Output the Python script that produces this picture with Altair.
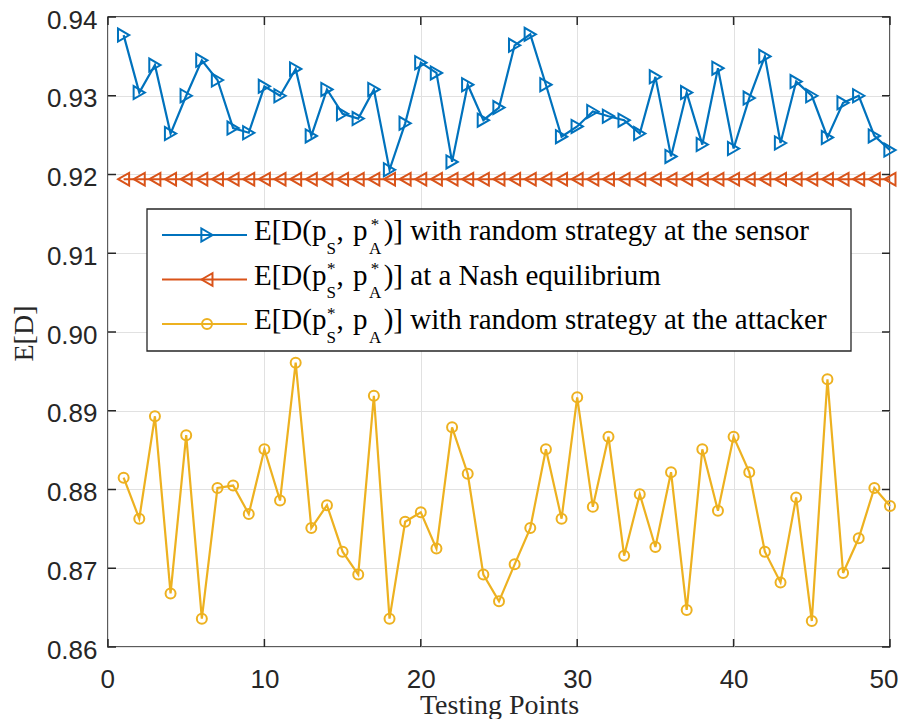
import altair as alt
import pandas as pd

# ---------------- data ----------------
points = list(range(1, 51))

sensor_random = [
    0.9377, 0.9304, 0.9339, 0.9252, 0.9300, 0.9345, 0.9320, 0.9259, 0.9253, 0.9312,
    0.9300, 0.9334, 0.9249, 0.9308, 0.9277, 0.9271, 0.9308, 0.9206, 0.9265, 0.9342,
    0.9329, 0.9216, 0.9314, 0.9269, 0.9285, 0.9364, 0.9378, 0.9314, 0.9248, 0.9261,
    0.9280, 0.9274, 0.9269, 0.9252, 0.9324, 0.9223, 0.9304, 0.9238, 0.9335, 0.9233,
    0.9297, 0.9350, 0.9240, 0.9318, 0.9300, 0.9247, 0.9291, 0.9300, 0.9249, 0.9231,
]

nash_eq = [
    0.9194, 0.9194, 0.9194, 0.9194, 0.9194, 0.9194, 0.9194, 0.9194, 0.9194, 0.9194,
    0.9194, 0.9194, 0.9194, 0.9194, 0.9194, 0.9194, 0.9194, 0.9194, 0.9194, 0.9194,
    0.9194, 0.9194, 0.9194, 0.9194, 0.9194, 0.9194, 0.9194, 0.9194, 0.9194, 0.9194,
    0.9194, 0.9194, 0.9194, 0.9194, 0.9194, 0.9194, 0.9194, 0.9194, 0.9194, 0.9194,
    0.9194, 0.9194, 0.9194, 0.9194, 0.9194, 0.9194, 0.9194, 0.9194, 0.9194, 0.9194,
]

attacker_random = [
    0.8815, 0.8763, 0.8893, 0.8668, 0.8869, 0.8636, 0.8802, 0.8805, 0.8769, 0.8851,
    0.8786, 0.8961, 0.8751, 0.8780, 0.8721, 0.8692, 0.8919, 0.8636, 0.8759, 0.8771,
    0.8725, 0.8879, 0.8820, 0.8692, 0.8658, 0.8705, 0.8751, 0.8851, 0.8763, 0.8917,
    0.8778, 0.8867, 0.8716, 0.8794, 0.8727, 0.8822, 0.8647, 0.8851, 0.8773, 0.8867,
    0.8822, 0.8721, 0.8682, 0.8790, 0.8633, 0.8940, 0.8694, 0.8738, 0.8802, 0.8779,
]

x_ticks = [0, 10, 20, 30, 40, 50]
y_ticks = [0.86, 0.87, 0.88, 0.89, 0.90, 0.91, 0.92, 0.93, 0.94]

x_title = "Testing Points"
y_title = "E[D]"

# legend text pieces: prefix, sub S, ",", "p", sub A, suffix ; stars on S / A
legend_prefix = "E[D(p"
legend_comma = ","
legend_p = "p"
legend_suffix = [
    ")] with random strategy at the sensor",
    ")] at a Nash equilibrium",
    ")] with random strategy at the attacker",
]
legend_star_on_S = [False, True, True]
legend_star_on_A = [True, True, False]

# ---------------- styling ----------------
W, H = 782, 630
BLUE, RED, YELLOW = "#0072BD", "#D95319", "#EDB120"
INK = "#262626"
GRID = "#E1E1E1"
SANS = "Liberation Sans, Arial, Helvetica, sans-serif"
SERIF = "Liberation Serif, Times New Roman, serif"

df = pd.DataFrame({
    "x": points,
    "sensor": sensor_random,
    "nash": nash_eq,
    "attacker": attacker_random,
})

xs = alt.Scale(domain=[0, 50], nice=False, zero=False)
ys = alt.Scale(domain=[0.86, 0.94], nice=False, zero=False)

xaxis = alt.Axis(
    values=x_ticks, grid=True, gridColor=GRID, gridWidth=1, ticks=False, domain=False,
    labelFont=SANS, labelFontSize=26, labelColor=INK, labelPadding=19,
    labelFlush=True, labelFlushOffset=8, labelOverlap=False,
    title=x_title, titleFont=SERIF, titleFontSize=28, titleFontWeight="normal",
    titleColor=INK, titleX=W / 2, titleY=66, titleBaseline="alphabetic", titleAlign="center",
)
yaxis = alt.Axis(
    values=y_ticks, format=".2f", grid=True, gridColor=GRID, gridWidth=1, ticks=False,
    domain=False, labelFont=SANS, labelFontSize=26, labelColor=INK, labelPadding=11,
    labelOffset=3, labelFlush=False, labelOverlap=False,
    title=y_title, titleFont=SERIF, titleFontSize=28, titleFontWeight="normal",
    titleColor=INK, titleX=-76, titleY=316, titleAngle=270,
    titleBaseline="alphabetic", titleAlign="center",
)

base = alt.Chart(df)
X = alt.X("x:Q", scale=xs, axis=xaxis)

series = [
    ("sensor", BLUE, "triangle-right", 170),
    ("nash", RED, "triangle-left", 160),
    ("attacker", YELLOW, "circle", 100),
]

layers = []
for field, color, shape, size in series:
    Y = alt.Y(f"{field}:Q", scale=ys, axis=yaxis)
    layers.append(base.mark_line(color=color, strokeWidth=2.2).encode(x=X, y=Y))
    layers.append(
        base.mark_point(shape=shape, size=size, filled=False, color=color,
                        strokeWidth=2, opacity=1).encode(x=X, y=Y)
    )

# inner tick marks on all four sides (MATLAB box style)
xt = alt.Chart(pd.DataFrame({"t": x_ticks}))
yt = alt.Chart(pd.DataFrame({"t": y_ticks}))
TX = alt.X("t:Q", scale=xs, axis=xaxis)
TY = alt.Y("t:Q", scale=ys, axis=yaxis)
layers += [
    xt.mark_rule(color=INK, strokeWidth=1.5).encode(x=TX, y=alt.value(H), y2=alt.value(H - 8)),
    xt.mark_rule(color=INK, strokeWidth=1.5).encode(x=TX, y=alt.value(0), y2=alt.value(8)),
    yt.mark_rule(color=INK, strokeWidth=1.5).encode(y=TY, x=alt.value(0), x2=alt.value(8)),
    yt.mark_rule(color=INK, strokeWidth=1.5).encode(y=TY, x=alt.value(W - 8), x2=alt.value(W)),
]

# ---------------- legend (drawn by hand, for sub/superscripts) ----------------
TNR = {"E": 0.611, "[": 0.333, "D": 0.722, "(": 0.333, "p": 0.5, ",": 0.25,
       " ": 0.25, "S": 0.556, "A": 0.722}


def tw(s, fs):
    return sum(TNR[c] for c in s) * fs


FS_MAIN, FS_SUB = 29, 17
one = alt.Chart(pd.DataFrame({"k": [0]}))
layers.append(
    one.mark_rect(fill="white", stroke=INK, strokeWidth=1.3).encode(
        x=alt.value(39), x2=alt.value(743), y=alt.value(192), y2=alt.value(334))
)

row_y = [218, 262.5, 307]
tx0 = 146
xS = tx0 + tw(legend_prefix, FS_MAIN)
xComma = xS + tw("S", FS_SUB) + 0.5
xP = xComma + tw(", ", FS_MAIN) + 2
xA = xP + tw("p", FS_MAIN) + 1.5
xRest = xA + tw("A", FS_SUB) + 2.5


def txt(s, x, y, fs, align="left"):
    return one.mark_text(align=align, baseline="alphabetic", font=SERIF, fontSize=fs,
                         color="black").encode(x=alt.value(x), y=alt.value(y),
                                               text=alt.value(s))


for i, (field, color, shape, size) in enumerate(series):
    ly = row_y[i]
    layers.append(one.mark_rule(color=color, strokeWidth=2.2).encode(
        x=alt.value(54), x2=alt.value(139), y=alt.value(ly)))
    layers.append(one.mark_point(shape=shape, size=size, filled=False, color=color,
                                 strokeWidth=2, opacity=1).encode(
        x=alt.value(99), y=alt.value(ly)))
    layers.append(txt(legend_prefix, tx0, ly + 5, FS_MAIN))
    layers.append(txt("S", xS, ly + 18.5, FS_SUB))
    layers.append(txt(legend_comma, xComma, ly + 5, FS_MAIN))
    layers.append(txt(legend_p, xP, ly + 5, FS_MAIN))
    layers.append(txt("A", xA, ly + 18.5, FS_SUB))
    layers.append(txt(legend_suffix[i], xRest, ly + 5, FS_MAIN))
    if legend_star_on_S[i]:
        layers.append(txt("*", xS + tw("S", FS_SUB) / 2, ly - 5.5, FS_SUB, "center"))
    if legend_star_on_A[i]:
        layers.append(txt("*", xA + tw("A", FS_SUB) / 2, ly - 5.5, FS_SUB, "center"))

chart = alt.layer(*layers).properties(
    width=W, height=H,
    autosize=alt.AutoSizeParams(type="none"),
    padding={"left": 100, "top": 9, "right": 9, "bottom": 72},
    background="white",
).configure_view(stroke=INK, strokeWidth=1.5)

chart.save("out.html", embed_options={"renderer": "svg", "actions": False})
